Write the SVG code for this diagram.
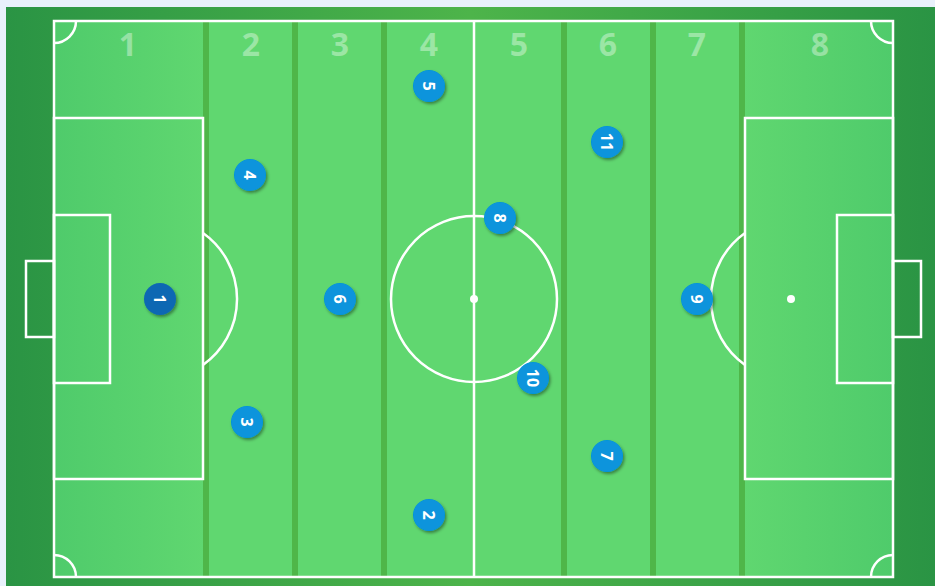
<svg xmlns="http://www.w3.org/2000/svg" width="935" height="586" viewBox="0 0 935 586">
<defs>
<linearGradient id="outer" x1="0" y1="0" x2="1" y2="0">
<stop offset="0" stop-color="#2a9444"/>
<stop offset="0.5" stop-color="#4db44a"/>
<stop offset="1" stop-color="#2a9444"/>
</linearGradient>
<linearGradient id="field" x1="0" y1="0" x2="1" y2="0">
<stop offset="0" stop-color="#4fcb6b"/>
<stop offset="0.18" stop-color="#60d770"/>
<stop offset="0.82" stop-color="#60d770"/>
<stop offset="1" stop-color="#4fcb6b"/>
</linearGradient>
<filter id="shadow" x="-50%" y="-50%" width="200%" height="200%">
<feDropShadow dx="1.5" dy="2" stdDeviation="1.5" flood-color="#000" flood-opacity="0.4"/>
</filter>
</defs>
<style>
.line{fill:none;stroke:#fff;stroke-width:2.5}
.stripe{fill:#4fb649}
.col{font-family:"Open Sans","Liberation Sans",sans-serif;font-weight:700;font-size:32px;fill:#fff;fill-opacity:0.38;text-anchor:middle}
.p circle{fill:#0794dc;filter:url(#shadow)}
.p.gk circle{fill:#0a68b3}
.p text{font-family:"Open Sans","Liberation Sans",sans-serif;font-weight:700;font-size:16px;fill:#fff;text-anchor:middle;dominant-baseline:central}
</style>
<rect x="0" y="0" width="935" height="586" fill="#e8f1fb"/>
<rect x="6" y="7" width="929" height="579" fill="url(#outer)"/>
<g id="pitch">
<rect x="54" y="21" width="839" height="556" fill="url(#field)"/>
<rect class="stripe" x="203" y="21" width="6" height="556"/>
<rect class="stripe" x="292" y="21" width="6" height="556"/>
<rect class="stripe" x="381" y="21" width="6" height="556"/>
<rect class="stripe" x="561" y="21" width="6" height="556"/>
<rect class="stripe" x="650" y="21" width="6" height="556"/>
<rect class="stripe" x="739" y="21" width="6" height="556"/>
<text class="col" x="128" y="56">1</text>
<text class="col" x="251" y="56">2</text>
<text class="col" x="340" y="56">3</text>
<text class="col" x="429" y="56">4</text>
<text class="col" x="519" y="56">5</text>
<text class="col" x="608" y="56">6</text>
<text class="col" x="697" y="56">7</text>
<text class="col" x="820" y="56">8</text>
<rect class="line" x="54" y="21" width="839" height="556"/>
<line class="line" x1="474" y1="21" x2="474" y2="577"/>
<circle class="line" cx="474" cy="299" r="83"/>
<circle cx="474" cy="299" r="4" fill="#fff"/>
<rect class="line" x="54" y="118" width="149" height="361"/>
<rect class="line" x="54" y="215" width="56" height="168"/>
<rect class="line" x="26" y="261" width="28" height="76"/>
<path class="line" d="M203 233 A81 81 0 0 1 203 365"/>
<circle cx="156" cy="299" r="4" fill="#fff"/>
<rect class="line" x="745" y="118" width="148" height="361"/>
<rect class="line" x="837" y="215" width="56" height="168"/>
<rect class="line" x="893" y="261" width="28" height="76"/>
<path class="line" d="M745 233 A81 81 0 0 0 745 365"/>
<circle cx="791" cy="299" r="4" fill="#fff"/>
<path class="line" d="M76 21 A22 22 0 0 1 54 43"/>
<path class="line" d="M871 21 A22 22 0 0 0 893 43"/>
<path class="line" d="M54 555 A22 22 0 0 1 76 577"/>
<path class="line" d="M893 555 A22 22 0 0 0 871 577"/>
</g>
<g id="connectors"></g>
<g id="player-1" class="p gk" transform="translate(160,299)"><circle r="16"/><text transform="rotate(90)">1</text></g>
<g id="player-2" class="p" transform="translate(429,515)"><circle r="16"/><text transform="rotate(90)">2</text></g>
<g id="player-3" class="p" transform="translate(247,422)"><circle r="16"/><text transform="rotate(90)">3</text></g>
<g id="player-4" class="p" transform="translate(250,175)"><circle r="16"/><text transform="rotate(90)">4</text></g>
<g id="player-5" class="p" transform="translate(429,86)"><circle r="16"/><text transform="rotate(90)">5</text></g>
<g id="player-6" class="p" transform="translate(340,299)"><circle r="16"/><text transform="rotate(90)">6</text></g>
<g id="player-7" class="p" transform="translate(607,456)"><circle r="16"/><text transform="rotate(90)">7</text></g>
<g id="player-8" class="p" transform="translate(500,218)"><circle r="16"/><text transform="rotate(90)">8</text></g>
<g id="player-9" class="p" transform="translate(697,299)"><circle r="16"/><text transform="rotate(90)">9</text></g>
<g id="player-10" class="p" transform="translate(533,378)"><circle r="16"/><text transform="rotate(90)">10</text></g>
<g id="player-11" class="p" transform="translate(607,142)"><circle r="16"/><text transform="rotate(90)">11</text></g>
</svg>
